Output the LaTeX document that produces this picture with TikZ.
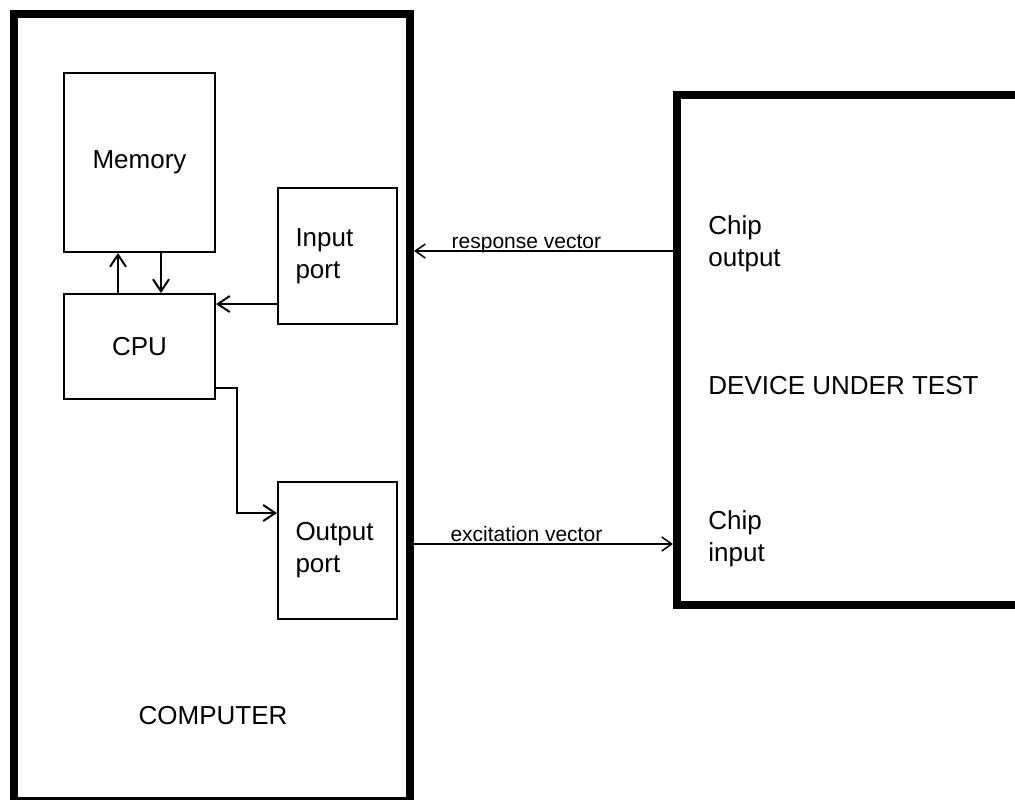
\documentclass[tikz,border=0pt]{standalone}
\usepackage{fontspec}
\setmainfont{Liberation Sans}
\usetikzlibrary{arrows.meta,positioning,calc}
\tikzset{
  thickbox/.style={draw,line width=4pt,inner sep=0pt},
  blk/.style={draw,line width=1pt,inner sep=0pt,font=\fontsize{13}{16}\selectfont,align=center},
  port/.style={blk,minimum width=59.5pt,text width=42pt,align=left},
  txt/.style={font=\fontsize{13}{16}\selectfont,align=left,inner sep=0pt},
  arr/.style={-{Straight Barb[length=6pt,width=8pt]},line width=1pt},
  varr/.style={-{Straight Barb[length=5pt,width=7pt]},line width=0.75pt},
  vlbl/.style={font=\fontsize{10.5}{12}\selectfont,anchor=base,inner sep=0pt,yshift=1.5pt},
}
\begin{document}
\begin{tikzpicture}[x=0.5pt,y=-0.5pt]
\useasboundingbox (0,0) rectangle (1015,799);
% computer side
\node[thickbox,minimum width=198pt,minimum height=393.75pt] (comp) at (212,407.25) {};
\node[blk,minimum width=75.5pt,minimum height=89.5pt] (mem) at (139.5,162.5) {Memory};
\node[blk,minimum width=75.5pt,minimum height=52.5pt] (cpu) at (139.5,346.5) {CPU};
\node[port,minimum height=68pt] (inp) at (337.5,256) {Input\\port};
\node[port,minimum height=68.5pt] (outp) at (337.5,550.5) {Output\\port};
\node[txt] (complbl) at (213,716) {COMPUTER};
% device side
\node[thickbox,minimum width=172.5pt,minimum height=255.25pt] (dut) at (849.5,349.75) {};
\node[txt,anchor=west] (chipout) at (708,244) {Chip\\output};
\node[txt,anchor=west] (dutlbl) at (708,386) {DEVICE UNDER TEST};
\node[txt,anchor=west] (chipin) at (708,539) {Chip\\input};
% internal buses
\draw[arr] ([xshift=-10.75pt]cpu.north) -- ([xshift=-10.75pt]mem.south);
\draw[arr] ([xshift=10.75pt]mem.south) -- ([xshift=10.75pt]cpu.north);
\draw[arr] ([yshift=-24pt]inp.west) -- ([yshift=-24pt]inp.west -| cpu.east);
\draw[arr] ([yshift=-20.75pt]cpu.east) -- ++(10.5pt,0) |- ([yshift=18.75pt]outp.west);
% test vectors
\coordinate (rv) at (0,251);
\coordinate (ev) at (0,544);
\draw[varr] (dut.west |- rv) -- node[vlbl,pos=0.566] {response vector} (comp.east |- rv);
\draw[varr] (comp.east |- ev) -- node[vlbl,pos=0.434] {excitation vector} (dut.west |- ev);
\end{tikzpicture}
\end{document}
